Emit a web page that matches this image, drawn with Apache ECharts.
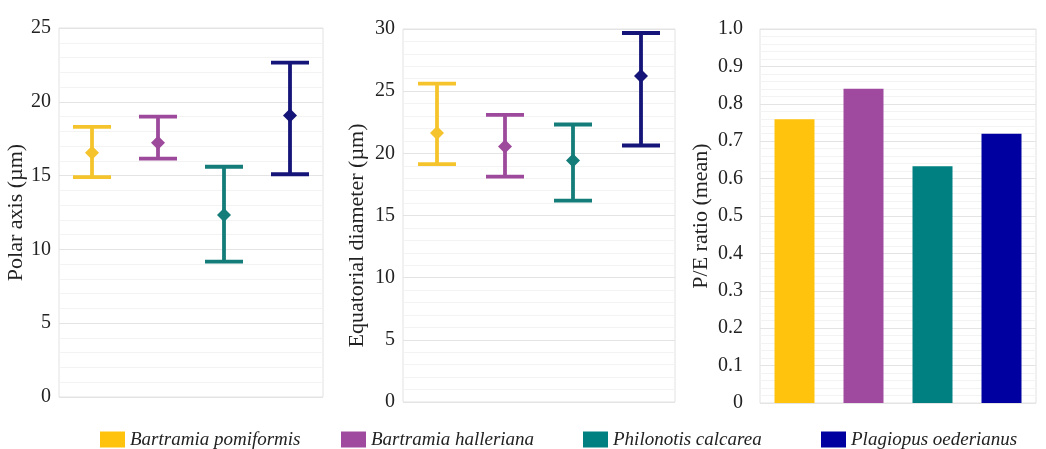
<!DOCTYPE html>
<html>
<head>
<meta charset="utf-8">
<script src="https://cdn.jsdelivr.net/npm/echarts@6/dist/echarts.min.js"></script>
<style>
  html, body { margin: 0; padding: 0; background: #fff; }
  #chart { width: 1046px; height: 449px; }
</style>
</head>
<body>
<div id="chart"></div>
<script>
const species = ["Bartramia pomiformis", "Bartramia halleriana", "Philonotis calcarea", "Plagiopus oederianus"];
const barColors = ["#FFC30E", "#A04A9F", "#008080", "#0000A0"];
const errColors = ["#F5C42C", "#9E4A9C", "#157D79", "#141479"];

// polar axis (µm)
const polarMean = [16.55, 17.23, 12.33, 19.08];
const polarLow = [14.9, 16.15, 9.17, 15.09];
const polarHigh = [18.3, 19.0, 15.6, 22.65];

// equatorial diameter (µm)
const eqMean = [21.63, 20.55, 19.42, 26.22];
const eqLow = [19.13, 18.13, 16.2, 20.63];
const eqHigh = [25.6, 23.1, 22.32, 29.68];

// P/E ratio (mean)
const peRatio = [0.759, 0.84, 0.633, 0.72];

const polarTicks = ["0", "5", "10", "15", "20", "25"];
const eqTicks = ["0", "5", "10", "15", "20", "25", "30"];
const peTicks = ["0", "0.1", "0.2", "0.3", "0.4", "0.5", "0.6", "0.7", "0.8", "0.9", "1.0"];

const legendLeft = [100, 341, 583, 821];

const serif = "Liberation Serif";

function errorBar(color) {
  return function (params, api) {
    const x = api.value(0);
    const lo = api.coord([x, api.value(1)]);
    const hi = api.coord([x, api.value(2)]);
    const hw = 19;
    const style = { stroke: color, lineWidth: 3.8 };
    return {
      type: "group",
      children: [
        { type: "line", shape: { x1: hi[0], y1: hi[1], x2: lo[0], y2: lo[1] }, style: style },
        { type: "line", shape: { x1: hi[0] - hw, y1: hi[1], x2: hi[0] + hw, y2: hi[1] }, style: style },
        { type: "line", shape: { x1: lo[0] - hw, y1: lo[1], x2: lo[0] + hw, y2: lo[1] }, style: style }
      ]
    };
  };
}

function yAxis(gridIndex, max, interval, ticks, name, gap, namePad) {
  return {
    type: "value",
    gridIndex: gridIndex,
    min: 0,
    max: max,
    interval: interval,
    name: name,
    nameLocation: "middle",
    nameRotate: 90,
    nameGap: gap,
    nameTextStyle: { fontFamily: serif, fontSize: 22, color: "#222", padding: namePad },
    axisLine: { show: false },
    axisTick: { show: false },
    axisLabel: {
      fontFamily: serif,
      fontSize: 20,
      color: "#222",
      margin: gridIndex === 2 ? 17 : 8,
      formatter: function (v) {
        return ticks[Math.round(v / interval)];
      }
    },
    splitLine: { lineStyle: { color: "#E4E4E4" } },
    minorTick: { show: false, splitNumber: 5 },
    minorSplitLine: { show: true, lineStyle: { color: "#F3F3F3" } }
  };
}

function xAxis(gridIndex) {
  return {
    type: "category",
    gridIndex: gridIndex,
    data: species,
    axisLine: { show: false },
    axisTick: { show: false },
    axisLabel: { show: false }
  };
}

const series = [];
species.forEach(function (s, i) {
  series.push({
    name: s, type: "custom", xAxisIndex: 0, yAxisIndex: 0,
    itemStyle: { color: errColors[i] },
    renderItem: errorBar(errColors[i]),
    encode: { x: 0, y: [1, 2] },
    data: [[i, polarLow[i], polarHigh[i]]]
  });
  series.push({
    name: s, type: "scatter", xAxisIndex: 0, yAxisIndex: 0,
    symbol: "diamond", symbolSize: 14, z: 5,
    itemStyle: { color: errColors[i], opacity: 1 },
    data: [[i, polarMean[i]]]
  });
  series.push({
    name: s, type: "custom", xAxisIndex: 1, yAxisIndex: 1,
    itemStyle: { color: errColors[i] },
    renderItem: errorBar(errColors[i]),
    encode: { x: 0, y: [1, 2] },
    data: [[i, eqLow[i], eqHigh[i]]]
  });
  series.push({
    name: s, type: "scatter", xAxisIndex: 1, yAxisIndex: 1,
    symbol: "diamond", symbolSize: 14, z: 5,
    itemStyle: { color: errColors[i], opacity: 1 },
    data: [[i, eqMean[i]]]
  });
  series.push({
    name: s, type: "bar", xAxisIndex: 2, yAxisIndex: 2,
    barWidth: 40, barGap: "-100%",
    itemStyle: { color: barColors[i] },
    data: species.map(function (_, j) { return j === i ? peRatio[i] : null; })
  });
});

const chart = echarts.init(document.getElementById("chart"));
chart.setOption({
  animation: false,
  backgroundColor: "#fff",
  grid: [
    { left: 59, top: 28, width: 264, height: 369, show: true, borderColor: "#E2E2E2", borderWidth: 1 },
    { left: 403, top: 29, width: 272, height: 373, show: true, borderColor: "#E2E2E2", borderWidth: 1 },
    { left: 760, top: 29, width: 276, height: 374, show: true, borderColor: "#E2E2E2", borderWidth: 1 }
  ],
  xAxis: [xAxis(0), xAxis(1), xAxis(2)],
  yAxis: [
    yAxis(0, 25, 5, polarTicks, "Polar axis (µm)", 31, [0, 0, 0, 0]),
    yAxis(1, 30, 5, eqTicks, "Equatorial diameter (µm)", 35, [0, 40, 0, 0]),
    yAxis(2, 1, 0.1, peTicks, "P/E ratio (mean)", 48, [0, 0, 0, 0])
  ],
  legend: species.map(function (s, i) {
    return {
      left: legendLeft[i],
      top: 430,
      padding: 0,
      icon: "rect",
      itemWidth: 25,
      itemHeight: 16,
      selectedMode: false,
      textStyle: { fontFamily: serif, fontStyle: "italic", fontSize: 19, color: "#222" },
      data: [{ name: s, itemStyle: { color: barColors[i] } }]
    };
  }),
  series: series
});
</script>
</body>
</html>
